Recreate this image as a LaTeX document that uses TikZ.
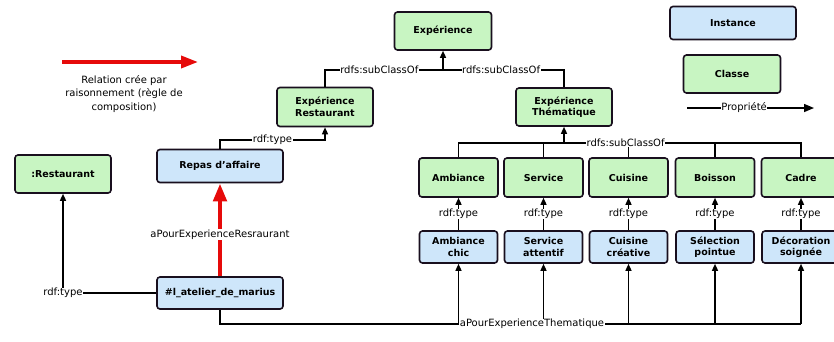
\documentclass[tikz,border=0pt]{standalone}
\usepackage{fontspec}
\setmainfont{DejaVu Sans}
\usetikzlibrary{arrows.meta}
\definecolor{clsgreen}{RGB}{200,245,194}
\definecolor{instblue}{RGB}{206,230,250}
\definecolor{boxline}{RGB}{25,15,30}
\definecolor{relred}{RGB}{230,10,10}
\begin{document}
\begin{tikzpicture}[x=1pt,y=-1pt,
  box/.style={draw=boxline, line width=1.6pt, rounded corners=3pt, align=center,
    font=\fontsize{9.5}{11.5}\selectfont\bfseries, inner sep=1pt},
  cls/.style={box, fill=clsgreen},
  inst/.style={box, fill=instblue},
  lbl/.style={fill=white, inner sep=0.6pt, font=\fontsize{10}{11}\selectfont},
  conn/.style={line width=1.4pt, draw=black},
  arr/.style={conn, -{Triangle[length=7pt,width=6pt]}},
  redarr/.style={draw=relred, line width=4.5pt, -{Triangle[length=18pt,width=13pt]}}
]
\useasboundingbox[fill=white] (0,0) rectangle (834,341);

% legend
\coordinate (lr1) at (62,62);
\coordinate (lr2) at (198,62);
\draw[redarr, line width=3.5pt, -{Triangle[length=17pt,width=12pt]}] (lr1) -- (lr2);
\node[font=\fontsize{10}{13.5}\selectfont, align=center] (legtxt) at (124,94) {Relation crée par\\raisonnement (règle de\\composition)};
\node[inst, minimum width=126pt, minimum height=33pt] (leginst) at (733,23) {Instance};
\node[cls, minimum width=97pt, minimum height=38pt] (legcls) at (732,74) {Classe};
\coordinate (lp1) at (687,108);
\coordinate (lp2) at (814,108);
\draw[arr, -{Triangle[length=10pt,width=8pt]}] (lp1) -- node[lbl, pos=0.45] {Propriété} (lp2);

% classes
\node[cls, minimum width=97pt, minimum height=38pt] (exp) at (443,31) {Expérience};
\node[cls, minimum width=96pt, minimum height=39pt] (expR) at (325,107) {Expérience\\Restaurant};
\node[cls, minimum width=96pt, minimum height=38pt] (expT) at (564,107) {Expérience\\Thématique};
\node[cls, minimum width=96pt, minimum height=38pt] (rest) at (63,174) {:Restaurant};

\node[inst, minimum width=126pt, minimum height=33pt] (repas) at (220,166) {Repas d'affaire};
\node[inst, minimum width=126pt, minimum height=32pt] (atel) at (220,293) {\#l\_atelier\_de\_marius};

\foreach \n/\x/\t in {amb/458.5/Ambiance, ser/543.5/Service, cui/628.5/Cuisine, boi/715/Boisson, cad/801/Cadre}
  \node[cls, minimum width=79pt, minimum height=39pt] (\n) at (\x,177.5) {\t};

\foreach \n/\x/\t in {ambI/458.5/{Ambiance\\chic}, serI/543.5/{Service\\attentif}, cuiI/628.5/{Cuisine\\créative}, boiI/715/{Sélection\\pointue}, cadI/801/{Décoration\\soignée}}
  \node[inst, minimum width=78pt, minimum height=32pt] (\n) at (\x,247) {\t};

% subclass links to Expérience
\coordinate (jE) at (443,70);
\draw[conn] (expR.north) |- node[lbl, pos=0.73] {rdfs:subClassOf} (jE);
\draw[conn] (expT.north) |- node[lbl, pos=0.76] {rdfs:subClassOf} (jE);
\draw[arr] (jE) -- (exp.south);

% Repas -> Expérience Restaurant
\coordinate (jR) at (325,140);
\draw[arr] (repas.north) |- node[lbl, pos=0.75] {rdf:type} (jR) -- (expR.south);

% atelier -> Restaurant
\draw[arr] (atel.west) -| node[lbl, pos=0.5] {rdf:type} (rest.south);

% red inferred relation
\draw[redarr] (atel.north) -- node[lbl, text=black, pos=0.45] {aPourExperienceResraurant} (repas.south);

% thematic subclass bus
\coordinate (jT) at (564,143);
\draw[arr] (jT) -- (expT.south);
\draw[conn] (amb.north) |- (jT);
\foreach \n in {ser,cui,boi}
  \draw[conn] (\n.north) -- (\n.north |- jT);
\draw[conn] (cad.north) |- node[lbl, pos=0.87] {rdfs:subClassOf} (jT);

% rdf:type instance -> class
\foreach \i/\c in {ambI/amb, serI/ser, cuiI/cui, boiI/boi, cadI/cad}
  \draw[arr] (\i.north) -- node[lbl] {rdf:type} (\c.south);

% aPourExperienceThematique bus
\coordinate (jB) at (801,324);
\draw[conn] (atel.south) |- (jB);
\foreach \i in {ambI, serI, cuiI, boiI, cadI}
  \draw[arr] (\i.south |- jB) -- (\i.south);
\coordinate (jBl) at (220,324);
\path (jBl) -- node[lbl, pos=0.537] {aPourExperienceThematique} (jB);
\end{tikzpicture}
\end{document}
